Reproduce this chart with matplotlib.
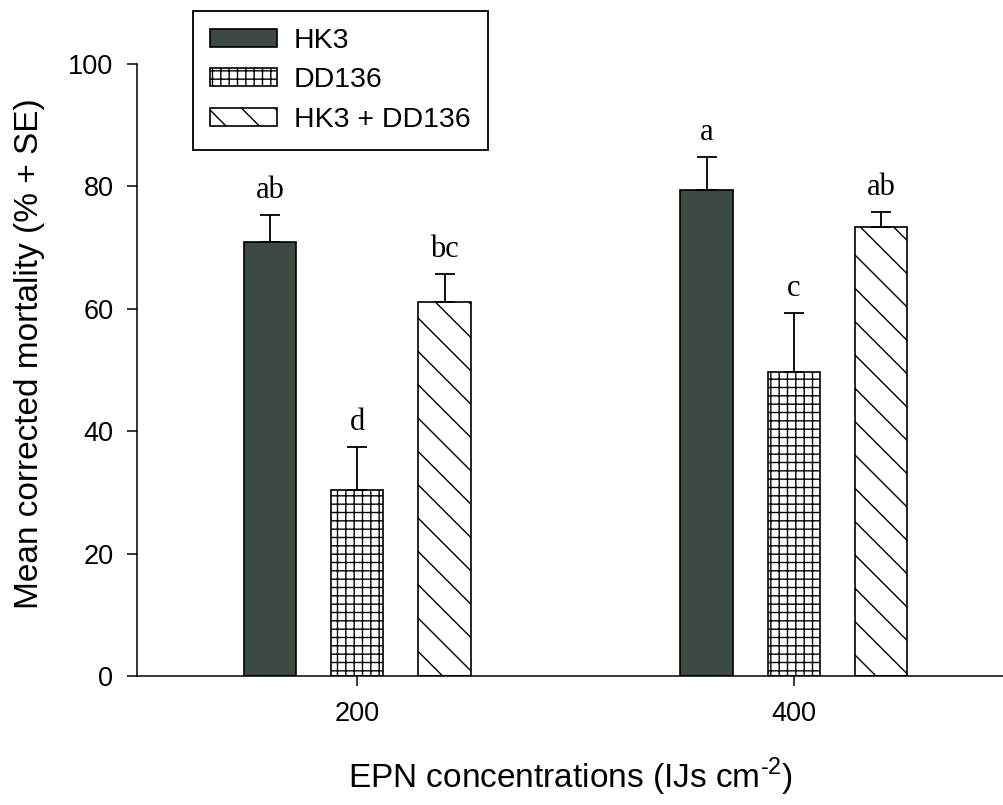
import numpy as np
import matplotlib
matplotlib.use('Agg')
import matplotlib.pyplot as plt

# Данные
groups = ['200', '400']
series = ['HK3', 'DD136', 'HK3 + DD136']
means = {
    'HK3': [70.8, 79.4],
    'DD136': [30.3, 49.7],
    'HK3 + DD136': [61.1, 73.3],
}
se = {
    'HK3': [4.5, 5.3],
    'DD136': [7.1, 9.5],
    'HK3 + DD136': [4.5, 2.4],
}
letters = {
    'HK3': ['ab', 'a'],
    'DD136': ['d', 'c'],
    'HK3 + DD136': ['bc', 'ab'],
}

colors = {'HK3': '#3c4a41', 'DD136': 'white', 'HK3 + DD136': 'white'}
hatches = {'HK3': None, 'DD136': '++', 'HK3 + DD136': '\\'}

plt.rcParams['font.family'] = ['Liberation Sans', 'DejaVu Sans']
plt.rcParams['mathtext.fontset'] = 'custom'
plt.rcParams['mathtext.rm'] = 'Liberation Sans'
plt.rcParams['hatch.linewidth'] = 1.0

fig = plt.figure(figsize=(10.04, 8.05), dpi=100)
ax = fig.add_axes([0.1365, 0.1602, 0.8635, 0.7609])

x = np.arange(len(groups))
width = 0.12
offset = 0.2

handles = []
for i, name in enumerate(series):
    pos = x + (i - 1) * offset
    b = ax.bar(pos, means[name], width, color=colors[name], edgecolor='black',
               linewidth=1.2, hatch=hatches[name], label=name, zorder=2)
    handles.append(b)
    ax.errorbar(pos, means[name], yerr=[np.zeros(len(groups)), se[name]],
                fmt='none', ecolor='black', elinewidth=1.3, capsize=7,
                capthick=1.3, zorder=3)
    for p, m, s, t in zip(pos, means[name], se[name], letters[name]):
        ax.text(p, m + s + 2.8, t, ha='center', va='baseline',
                fontsize=22, family='Liberation Serif')

ax.set_xlim(-0.504, 1.481)
ax.set_ylim(0, 100)
ax.set_yticks([0, 20, 40, 60, 80, 100])
ax.set_xticks(x)
ax.set_xticklabels(groups)
ax.tick_params(axis='both', direction='out', length=7, width=1.1,
               labelsize=19.5)
ax.tick_params(axis='x', pad=11)
ax.tick_params(axis='y', pad=10)

for s in ['top', 'right']:
    ax.spines[s].set_visible(False)
for s in ['left', 'bottom']:
    ax.spines[s].set_linewidth(1.1)

ax.set_xlabel('EPN concentrations (IJs cm$^{\\text{-2}}$)', fontsize=24)
ax.xaxis.set_label_coords(0.5, -0.13)
ax.set_ylabel('Mean corrected mortality (% + SE)', fontsize=24)
ax.yaxis.set_label_coords(-0.106, 0.527)

leg = ax.legend(handles=handles, loc='upper left',
                bbox_to_anchor=(193 / 1004, 1 - 11 / 805),
                bbox_transform=fig.transFigure, fontsize=20.5,
                frameon=True, fancybox=False, framealpha=1,
                edgecolor='black', borderpad=0.6, handlelength=2.35,
                handleheight=0.6, handletextpad=0.6, labelspacing=0.47,
                borderaxespad=0)
leg.get_frame().set_linewidth(1.3)

fig.savefig('out.png', dpi=100)
